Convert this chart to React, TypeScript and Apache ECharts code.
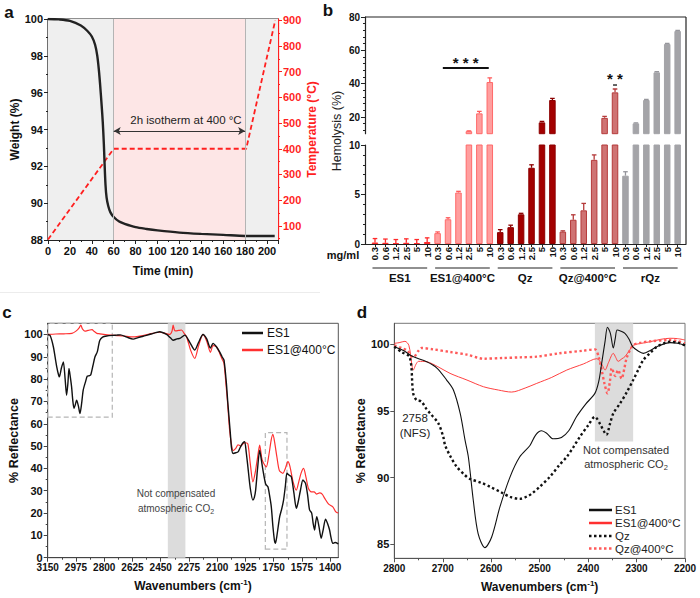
import React, { useEffect, useRef } from 'react';
import * as echarts from 'echarts';

const FONT = '"Liberation Sans", Arial, Helvetica, sans-serif';
const INK = '#111';
const RED = '#ff1f1f';

// ---------- (a) TGA: weight loss and temperature program ----------
const tgaTime = [0, 10, 20, 30, 36, 40, 43, 45, 46.5, 47.5, 49, 50, 51, 51.5, 52.5, 53.5, 55, 57, 60, 65, 70, 80, 90, 100, 120, 140, 160, 180, 190, 200, 207];
const tgaWeight = [100, 99.98, 99.9, 99.65, 99.35, 99.05, 98.6, 98.0, 97.2, 96.5, 95.3, 94.4, 93.2, 92.4, 91.0, 90.3, 89.85, 89.5, 89.25, 89.0, 88.88, 88.7, 88.6, 88.52, 88.4, 88.33, 88.28, 88.22, 88.22, 88.22, 88.22];
const tempTime = [0, 60, 181, 207.5];
const tempC = [47, 400, 400, 900];
const tempTicks = [100, 200, 300, 400, 500, 600, 700, 800, 900];
const tempMinorTicks = [50, 150, 250, 350, 450, 550, 650, 750, 850];

// ---------- (b) Hemolysis ----------
const hemoConc = ['0.3', '0.6', '1.2', '2.5', '5', '10'];
const hemoGroups = ['ES1', 'ES1@400°C', 'Qz', 'Qz@400°C', 'rQz'];
const hemoES1 = [0.15, 0.12, 0.1, 0.12, 0.1, 0.2];
const hemoES1Err = [0.4, 0.38, 0.35, 0.4, 0.35, 0.42];
const hemoES1400 = [1.1, 2.5, 5.2, 11.5, 22.2, 41.0];
const hemoES1400Err = [0.12, 0.15, 0.12, 0.2, 1.2, 2.5];
const hemoQz = [1.2, 1.7, 3.0, 7.7, 16.8, 30.2];
const hemoQzErr = [0.25, 0.2, 0.1, 0.3, 0.6, 1.0];
const hemoQz400 = [1.25, 2.45, 3.4, 8.5, 19.5, 34.8];
const hemoQz400Err = [0.08, 0.5, 0.7, 0.5, 0.9, 2.0];
const hemoRQz = [6.9, 16.2, 30.2, 46.8, 63.8, 71.6];
const hemoRQzErr = [0.4, 0.3, 0.3, 0.4, 0.4, 0.4];
const hemoUpperTicks = [20, 40, 60, 80];
const hemoUpperMinor = [12, 16, 24, 28, 32, 36, 44, 48, 52, 56, 64, 68, 72, 76];

const hemoFill = ['#ff4a4a', '#ff9e9e', '#a30000', '#cf7373', '#a4a4a8'];
const hemoEdge = ['#ff2a2a', '#ff6a6a', '#8c0000', '#b53a3a', '#a4a4a8'];
const hemoErrColor = ['#ff2a2a', '#ff5a5a', '#8c0000', '#b53a3a', '#96969c'];

// ---------- (c) FTIR, 3150–1350 cm-1 ----------
const cES1: [number, number][] = [
  [3150, 100], [3135, 99.5], [3115, 94.5], [3100, 88], [3094, 85.5], [3085, 82.5], [3078, 81], [3065, 85], [3053, 87.7],
  [3042, 80], [3033, 72.8], [3025, 78], [3018, 84.8], [3010, 81], [3002, 76.5], [2994, 70], [2987, 66.9], [2979, 68.5],
  [2971, 70.6], [2960, 68], [2950, 64.6], [2940, 69], [2930, 75.1], [2915, 79], [2905, 81.3], [2893, 81.5], [2884, 81.8],
  [2870, 86], [2857, 90], [2843, 92.2], [2835, 95], [2827, 97.4], [2810, 98.8], [2785, 99.3], [2750, 99.6], [2723, 99.7],
  [2700, 99.8], [2660, 98.8], [2621, 97.9], [2590, 98.6], [2559, 99.2], [2510, 100.2], [2456, 101.2], [2414, 100],
  [2390, 98.5], [2373, 97.4], [2350, 98], [2332, 98.2], [2301, 99.7], [2270, 96.5], [2239, 93], [2215, 96.5], [2188, 100],
  [2165, 98], [2142, 93.9], [2126, 96], [2105, 94.5], [2085, 92.2], [2070, 90], [2058, 88.5], [2043, 78], [2035, 70],
  [2027, 63], [2018, 55], [2012, 49.5], [2002, 46.7], [1985, 47], [1971, 47.4], [1960, 49], [1950, 50.4], [1940, 51.5],
  [1930, 52], [1920, 47], [1910, 40.7], [1895, 31], [1879, 25.8], [1870, 27], [1862, 30.3], [1850, 40], [1837, 48.2],
  [1827, 44], [1817, 39.3], [1800, 33], [1786, 31.8], [1776, 28], [1765, 22.8], [1755, 14], [1745, 7.5], [1740, 6.4],
  [1732, 9], [1713, 18.4], [1700, 22], [1689, 25.8], [1678, 32], [1668, 37.8], [1655, 37], [1641, 36.3], [1625, 29],
  [1610, 22.1], [1600, 24.5], [1585, 30], [1569, 34.8], [1553, 33.3], [1540, 28], [1528, 21.4], [1515, 20], [1505, 15],
  [1497, 12.4], [1490, 16], [1483, 18.4], [1470, 14], [1456, 8.7], [1445, 12], [1429, 17.3], [1415, 15], [1404, 12.4],
  [1395, 9], [1384, 6.4], [1370, 6.8], [1350, 6.2],
];
const cES1400: [number, number][] = [
  [3150, 100], [3100, 100.2], [3050, 100.3], [3000, 100.5], [2975, 101.5], [2955, 103], [2945, 104.2], [2935, 102.5],
  [2920, 101.5], [2909, 101.6], [2890, 102], [2875, 102.2], [2864, 101.5], [2845, 100.5], [2827, 100.3], [2780, 99.8],
  [2720, 99.5], [2680, 99.3], [2621, 98.9], [2560, 99.5], [2500, 100.5], [2456, 101], [2420, 100.5], [2394, 100],
  [2380, 101.5], [2373, 104.2], [2365, 102], [2358, 101.6], [2340, 101.8], [2321, 102], [2305, 100.5], [2290, 99],
  [2265, 93], [2239, 89.3], [2215, 95], [2188, 100], [2165, 97], [2142, 92], [2126, 95], [2105, 94.5], [2085, 91.6],
  [2070, 89], [2058, 87], [2045, 77], [2037, 70.6], [2023, 57], [2010, 50], [2002, 48], [1985, 49], [1971, 50.6],
  [1955, 50], [1940, 51], [1925, 51.5], [1910, 51], [1895, 42], [1879, 34], [1865, 38], [1850, 45], [1837, 50.4],
  [1825, 45], [1817, 43], [1796, 40.7], [1780, 46], [1765, 53], [1755, 55.3], [1745, 52], [1730, 45], [1715, 39],
  [1693, 37.8], [1678, 40], [1662, 43], [1650, 41], [1630, 34], [1610, 30.3], [1595, 34], [1580, 38], [1565, 40],
  [1550, 36], [1535, 31], [1517, 29.5], [1500, 29.5], [1485, 28.5], [1466, 29], [1450, 28.5], [1435, 26.7],
  [1410, 24], [1384, 22.8], [1365, 20.5], [1350, 20],
];
const cXTicks = [3150, 2975, 2800, 2625, 2450, 2275, 2100, 1925, 1750, 1575, 1400];
const cXMinor = [3062.5, 2887.5, 2712.5, 2537.5, 2362.5, 2187.5, 2012.5, 1837.5, 1662.5, 1487.5];
const cYTicks = [0, 10, 20, 30, 40, 50, 60, 70, 80, 90, 100];
const cYMinor = [5, 15, 25, 35, 45, 55, 65, 75, 85, 95];

// ---------- (d) FTIR, 2800–2200 cm-1 ----------
const dES1: [number, number][] = [
  [2800, 99.8], [2780, 99.5], [2764, 99.1], [2733, 98.67], [2712, 98.2], [2692, 97.3], [2678, 96.55], [2664, 94.8],
  [2654, 92.8], [2647, 91.5], [2637, 88.3], [2627, 85.8], [2613, 84.75], [2599, 85.55], [2582, 87.8], [2561, 90.05],
  [2541, 91.55], [2520, 92.4], [2508, 93.2], [2496, 93.5], [2485, 93.3], [2472, 92.9], [2455, 93.0], [2440, 93.5],
  [2424, 94.55], [2405, 95.5], [2386, 96.3], [2378, 97.2], [2372, 98.55], [2365, 100.2], [2360, 101.25], [2354, 100.8],
  [2348, 99.7], [2344, 100.4], [2340, 101.05], [2332, 100.95], [2324, 100.8], [2316, 100.4], [2308, 99.8], [2296, 99.45],
  [2286, 99.3], [2270, 99.55], [2258, 99.8], [2231, 100.1], [2215, 100.05], [2200, 99.9],
];
const dES1400: [number, number][] = [
  [2800, 100.05], [2790, 100.1], [2778, 100.2], [2770, 99.9], [2764, 98.5], [2761, 98.05], [2755, 98.5], [2750, 98.7],
  [2733, 98.67], [2710, 98.3], [2685, 97.8], [2650, 97.3], [2616, 96.8], [2585, 96.55], [2558, 96.4], [2530, 96.7],
  [2506, 97.05], [2475, 97.5], [2444, 98.05], [2410, 98.5], [2382, 98.9], [2372, 98.5], [2365, 98.05], [2358, 98.6],
  [2348, 99.3], [2343, 99.0], [2338, 98.7], [2330, 98.9], [2324, 99.05], [2315, 99.5], [2307, 99.9], [2290, 100.05],
  [2272, 100.17], [2250, 100.35], [2231, 100.43], [2215, 100.4], [2200, 100.3],
];
const dQz: [number, number][] = [
  [2800, 99.8], [2785, 99.4], [2768, 99.0], [2761, 96.3], [2754, 95.8], [2744, 95.7], [2735, 95.2], [2726, 94.8],
  [2709, 94.05], [2699, 93.05], [2695, 92.4], [2683, 91.5], [2671, 90.8], [2655, 90.2], [2644, 89.9], [2620, 89.6],
  [2602, 89.3], [2580, 88.9], [2561, 88.55], [2541, 88.4], [2525, 88.6], [2516, 88.8], [2500, 89.3], [2479, 90.05],
  [2460, 90.9], [2444, 91.55], [2430, 92.3], [2417, 93.05], [2400, 93.9], [2386, 94.55], [2375, 94.0], [2368, 93.5],
  [2362, 93.2], [2355, 94.0], [2348, 94.8], [2334, 95.55], [2320, 96.4], [2307, 97.3], [2296, 98.1], [2286, 98.8],
  [2270, 99.4], [2258, 99.8], [2240, 100.1], [2231, 100.17], [2215, 100.1], [2200, 99.9],
];
const dQz400: [number, number][] = [
  [2800, 99.9], [2785, 99.7], [2773, 99.5], [2761, 99.0], [2750, 99.5], [2744, 99.7], [2720, 99.6], [2685, 99.4],
  [2650, 99.2], [2616, 98.9], [2575, 98.95], [2540, 99.0], [2506, 99.05], [2460, 99.3], [2410, 99.5], [2386, 99.6],
  [2378, 99.0], [2372, 98.05], [2366, 97.0], [2360, 96.3], [2355, 97.2], [2351, 98.2], [2344, 97.6], [2338, 98.05],
  [2331, 97.4], [2325, 98.2], [2320, 99.0], [2307, 99.9], [2290, 100.1], [2272, 100.2], [2231, 100.3], [2215, 100.2],
  [2200, 100.05],
];
const dYTicks = [85, 90, 95, 100];

const hemoVals = [hemoES1, hemoES1400, hemoQz, hemoQz400, hemoRQz];
const hemoErrs = [hemoES1Err, hemoES1400Err, hemoQzErr, hemoQz400Err, hemoRQzErr];

const bold = (size: number, color = INK) => ({ fontFamily: FONT, fontWeight: 'bold' as const, fontSize: size, color });
const plain = (v: number) => String(v);

function tickOnlyAxis(base: any) {
  return {
    type: 'value',
    axisLine: { show: false, onZero: false },
    axisLabel: { show: false },
    splitLine: { show: false },
    ...base,
  };
}

function errorSeries(xi: number, yi: number, items: any[]) {
  return {
    type: 'custom',
    xAxisIndex: xi,
    yAxisIndex: yi,
    clip: true,
    silent: true,
    z: 4,
    data: items,
    renderItem: (params: any, api: any) => {
      const x = api.value(0);
      const v = api.value(1);
      const e = api.value(2);
      const color = hemoErrColor[api.value(3)];
      const a = api.coord([x, v]);
      const b = api.coord([x, v + e]);
      const hw = 2.3;
      return {
        type: 'group',
        children: [
          { type: 'line', shape: { x1: a[0], y1: a[1], x2: b[0], y2: b[1] }, style: { stroke: color, lineWidth: 1.3 } },
          { type: 'line', shape: { x1: b[0] - hw, y1: b[1], x2: b[0] + hw, y2: b[1] }, style: { stroke: color, lineWidth: 1.3 } },
        ],
      };
    },
  };
}

const wavenumberName = {
  name: '{t|Wavenumbers (cm}{s|-1}{t|)}',
  nameLocation: 'middle',
  nameGap: 21,
  nameTextStyle: {
    rich: {
      t: { ...bold(12), lineHeight: 15 },
      s: { ...bold(8), verticalAlign: 'top', lineHeight: 15, padding: [0, 0, 6, 0] },
    },
  },
};

export default function App() {
  const ref = useRef<HTMLDivElement>(null);

  useEffect(() => {
    if (!ref.current) return;
    const chart = echarts.init(ref.current, null, { renderer: 'svg', width: 700, height: 598 });

    const lowerBars: any[] = [];
    const upperBars: any[] = [];
    const lowerErr: any[] = [];
    const upperErr: any[] = [];
    hemoVals.forEach((vals, g) => {
      vals.forEach((v, k) => {
        const idx = g * 6 + k;
        const style = { color: hemoFill[g], borderColor: hemoEdge[g], borderWidth: 1 };
        lowerBars.push({ value: [idx, v], itemStyle: style });
        if (v > 10) {
          upperBars.push({ value: [idx, v], itemStyle: style });
          upperErr.push([idx, v, hemoErrs[g][k], g]);
        } else {
          lowerErr.push([idx, v, hemoErrs[g][k], g]);
        }
      });
    });
    const hemoIdx = Array.from({ length: 30 }, (_, i) => i);
    const bXMin = -0.957;
    const bXMax = 29.8;

    const option: any = {
      animation: false,
      backgroundColor: '#ffffff',
      textStyle: { fontFamily: FONT },
      grid: [
        { left: 48, top: 19, width: 230, height: 221, show: true, borderColor: '#222', borderWidth: 1.2, backgroundColor: 'transparent' },
        { left: 365, top: 17, width: 321, height: 116.7 },
        { left: 365, top: 145, width: 321, height: 99 },
        { left: 47.7, top: 323.3, width: 290.6, height: 234.4, show: true, borderColor: '#555', borderWidth: 1, backgroundColor: 'transparent' },
        { left: 394.3, top: 323.3, width: 290.7, height: 235, show: true, borderColor: '#777', borderWidth: 1, backgroundColor: 'transparent' },
      ],
      xAxis: [
        {
          gridIndex: 0, type: 'value', min: 0, max: 210, interval: 20,
          axisLine: { show: true, onZero: false, lineStyle: { color: '#222', width: 1.2 } },
          axisTick: { show: true, length: 4, lineStyle: { color: '#222' } },
          minorTick: { show: true, splitNumber: 2, length: 2, lineStyle: { color: '#222' } },
          splitLine: { show: false },
          axisLabel: { ...bold(11), margin: 5, showMaxLabel: false, formatter: plain },
          name: 'Time (min)', nameLocation: 'middle', nameGap: 25, nameTextStyle: bold(12),
        },
        { gridIndex: 1, type: 'value', min: bXMin, max: bXMax, show: false, axisLine: { onZero: false } },
        {
          gridIndex: 2, type: 'value', min: bXMin, max: bXMax,
          axisLine: { show: true, onZero: false, lineStyle: { color: '#222', width: 1.2 } },
          axisTick: { show: true, customValues: hemoIdx, length: 3, lineStyle: { color: '#222' } },
          axisLabel: {
            customValues: hemoIdx, rotate: 90, margin: 3, ...bold(9.5),
            formatter: (v: number) => hemoConc[Math.round(v) % 6],
          },
          splitLine: { show: false },
        },
        {
          gridIndex: 3, type: 'value', min: 1350, max: 3150, inverse: true,
          axisLine: { show: true, onZero: false, lineStyle: { color: '#444', width: 1 } },
          axisTick: { show: true, customValues: cXTicks, length: 4, lineStyle: { color: '#444' } },
          axisLabel: { customValues: cXTicks, ...bold(10), margin: 5, formatter: plain },
          splitLine: { show: false },
          ...wavenumberName,
        },
        tickOnlyAxis({
          gridIndex: 3, min: 1350, max: 3150, inverse: true, position: 'bottom',
          axisTick: { show: true, customValues: cXMinor, length: 2, lineStyle: { color: '#444' } },
        }),
        {
          gridIndex: 4, type: 'value', min: 2200, max: 2800, interval: 100, inverse: true,
          axisLine: { show: true, onZero: false, lineStyle: { color: '#555', width: 1 } },
          axisTick: { show: true, length: 4, lineStyle: { color: '#555' } },
          minorTick: { show: true, splitNumber: 2, length: 2, lineStyle: { color: '#555' } },
          axisLabel: { ...bold(10), margin: 5, formatter: plain },
          splitLine: { show: false },
          ...wavenumberName,
        },
      ],
      yAxis: [
        {
          gridIndex: 0, type: 'value', position: 'left', min: 88, max: 100, interval: 2,
          axisLine: { show: true, onZero: false, lineStyle: { color: '#222', width: 1.2 } },
          axisTick: { show: true, length: 4, lineStyle: { color: '#222' } },
          minorTick: { show: true, splitNumber: 2, length: 2, lineStyle: { color: '#222' } },
          splitLine: { show: false },
          axisLabel: { ...bold(11), margin: 5, formatter: plain },
          name: 'Weight (%)', nameLocation: 'middle', nameGap: 25, nameTextStyle: bold(12),
        },
        {
          gridIndex: 0, type: 'value', position: 'right', min: 45, max: 905,
          axisLine: { show: true, onZero: false, lineStyle: { color: RED, width: 1.3 } },
          axisTick: { show: true, customValues: tempTicks, length: 4, lineStyle: { color: RED } },
          axisLabel: { customValues: tempTicks, ...bold(11, RED), margin: 5, formatter: plain },
          splitLine: { show: false },
          name: 'Temperature (°C)', nameLocation: 'middle', nameGap: 28, nameTextStyle: bold(12, RED),
        },
        tickOnlyAxis({
          gridIndex: 0, min: 45, max: 905, position: 'right',
          axisTick: { show: true, customValues: tempMinorTicks, length: 2, lineStyle: { color: RED } },
        }),
        {
          gridIndex: 1, type: 'value', position: 'left', min: 10, max: 80,
          axisLine: { show: true, onZero: false, lineStyle: { color: '#222', width: 1.2 } },
          axisTick: { show: true, customValues: hemoUpperTicks, length: 4, lineStyle: { color: '#222' } },
          axisLabel: { customValues: hemoUpperTicks, ...bold(10), margin: 5, formatter: plain },
          splitLine: { show: false },
        },
        tickOnlyAxis({
          gridIndex: 1, min: 10, max: 80, position: 'left',
          axisTick: { show: true, customValues: hemoUpperMinor, length: 2, lineStyle: { color: '#222' } },
        }),
        {
          gridIndex: 2, type: 'value', position: 'left', min: 0, max: 10, interval: 5,
          axisLine: { show: true, onZero: false, lineStyle: { color: '#222', width: 1.2 } },
          axisTick: { show: true, length: 4, lineStyle: { color: '#222' } },
          minorTick: { show: true, splitNumber: 5, length: 2, lineStyle: { color: '#222' } },
          axisLabel: { ...bold(10), margin: 5, formatter: plain },
          splitLine: { show: false },
        },
        {
          gridIndex: 3, type: 'value', position: 'left', min: 0, max: 105,
          axisLine: { show: true, onZero: false, lineStyle: { color: '#444', width: 1 } },
          axisTick: { show: true, customValues: cYTicks, length: 4, lineStyle: { color: '#444' } },
          axisLabel: { customValues: cYTicks, ...bold(11), margin: 5, formatter: plain },
          splitLine: { show: false },
          name: '% Reflectance', nameLocation: 'middle', nameGap: 27, nameTextStyle: bold(12.5),
        },
        tickOnlyAxis({
          gridIndex: 3, min: 0, max: 105, position: 'left',
          axisTick: { show: true, customValues: cYMinor, length: 2, lineStyle: { color: '#444' } },
        }),
        {
          gridIndex: 4, type: 'value', position: 'left', min: 83.95, max: 101.55,
          axisLine: { show: true, onZero: false, lineStyle: { color: '#555', width: 1 } },
          axisTick: { show: true, customValues: dYTicks, length: 4, lineStyle: { color: '#555' } },
          axisLabel: { customValues: dYTicks, ...bold(11), margin: 5, formatter: plain },
          splitLine: { show: false },
          name: '% Reflectance', nameLocation: 'middle', nameGap: 22, nameTextStyle: bold(12.5),
        },
      ],
      series: [
        // (a) temperature program, with the heating-stage shading
        {
          type: 'line', xAxisIndex: 0, yAxisIndex: 1, silent: true, symbol: 'none', z: 3,
          data: tempTime.map((t, i) => [t, tempC[i]]),
          lineStyle: { color: RED, width: 1.8, type: [5, 3] },
          markArea: {
            silent: true,
            data: [
              [{ xAxis: 0, itemStyle: { color: '#efefef' } }, { xAxis: 60 }],
              [{ xAxis: 60, itemStyle: { color: '#fde6e6' } }, { xAxis: 180 }],
              [{ xAxis: 180, itemStyle: { color: '#efefef' } }, { xAxis: 210 }],
            ],
          },
          markLine: {
            silent: true, symbol: 'none', label: { show: false },
            lineStyle: { color: '#b4b4b4', width: 1, type: 'solid' },
            data: [{ xAxis: 60 }, { xAxis: 180 }],
          },
        },
        {
          type: 'line', xAxisIndex: 0, yAxisIndex: 0, silent: true, symbol: 'none', z: 4,
          data: tgaTime.map((t, i) => [t, tgaWeight[i]]),
          smooth: 0.3,
          lineStyle: { color: '#222', width: 2.4 },
          markLine: {
            silent: true, symbol: ['arrow', 'arrow'], symbolSize: [6, 7], label: { show: false },
            lineStyle: { color: '#333', width: 1, type: 'solid' },
            data: [[{ coord: [60, 93.92] }, { coord: [180, 93.92] }]],
          },
        },
        // (b) hemolysis bars, split over the two y ranges
        { type: 'bar', xAxisIndex: 1, yAxisIndex: 3, barWidth: 6.5, clip: true, silent: true, data: upperBars },
        errorSeries(1, 3, upperErr),
        { type: 'bar', xAxisIndex: 2, yAxisIndex: 5, barWidth: 6.5, clip: true, silent: true, data: lowerBars },
        errorSeries(2, 5, lowerErr),
        // (c) spectra
        {
          type: 'line', xAxisIndex: 3, yAxisIndex: 6, silent: true, symbol: 'none', smooth: 0.25, z: 3,
          data: cES1400, lineStyle: { color: '#ff3030', width: 1.2 },
          markArea: {
            silent: true,
            data: [
              [{ xAxis: 2406, itemStyle: { color: '#dcdcdc' } }, { xAxis: 2297 }],
              [{ xAxis: 3150, yAxis: 63, itemStyle: { color: 'rgba(0,0,0,0)', borderColor: '#b5b5b5', borderWidth: 1.2, borderType: [5, 3] } }, { xAxis: 2750, yAxis: 105 }],
              [{ xAxis: 1802, yAxis: 3.8, itemStyle: { color: 'rgba(0,0,0,0)', borderColor: '#b5b5b5', borderWidth: 1.2, borderType: [5, 3] } }, { xAxis: 1668, yAxis: 56 }],
            ],
          },
        },
        {
          type: 'line', xAxisIndex: 3, yAxisIndex: 6, silent: true, symbol: 'none', smooth: 0.25, z: 4,
          data: cES1, lineStyle: { color: '#111', width: 1.4 },
        },
        // (d) spectra
        {
          type: 'line', xAxisIndex: 5, yAxisIndex: 8, silent: true, symbol: 'none', smooth: 0.3, z: 3,
          data: dES1400, lineStyle: { color: '#ff4040', width: 1 },
          markArea: {
            silent: true,
            data: [[{ xAxis: 2386, yAxis: 92.7, itemStyle: { color: '#dcdcdc' } }, { xAxis: 2307, yAxis: 101.55 }]],
          },
        },
        {
          type: 'line', xAxisIndex: 5, yAxisIndex: 8, silent: true, symbol: 'none', smooth: 0.3, z: 3,
          data: dQz400, lineStyle: { color: '#ff5a5a', width: 2.4, type: [2.4, 2.6] },
        },
        {
          type: 'line', xAxisIndex: 5, yAxisIndex: 8, silent: true, symbol: 'none', smooth: 0.3, z: 4,
          data: dQz, lineStyle: { color: '#111', width: 2.4, type: [2.4, 2.6] },
        },
        {
          type: 'line', xAxisIndex: 5, yAxisIndex: 8, silent: true, symbol: 'none', smooth: 0.3, z: 4,
          data: dES1, lineStyle: { color: '#111', width: 1.1 },
        },
      ],
    };

    chart.setOption(option);

    // annotations placed through the axes of the hemolysis panel
    const bx = (i: number) => chart.convertToPixel({ xAxisIndex: 2 }, i) as number;
    const byU = (v: number) => chart.convertToPixel({ yAxisIndex: 3 }, v) as number;
    const txt = (x: number, y: number, text: string, size: number, weight: string, fill = INK, extra: any = {}) => ({
      type: 'text', x, y, silent: true, z: 100,
      style: { text, fontFamily: FONT, fontSize: size, fontWeight: weight, fill, align: 'center', verticalAlign: 'middle', ...extra },
    });
    const line = (x1: number, y1: number, x2: number, y2: number, stroke: string, lineWidth: number, extra: any = {}) => ({
      type: 'line', silent: true, z: 100, shape: { x1, y1, x2, y2 }, style: { stroke, lineWidth, ...extra },
    });

    const graphics: any[] = [];
    // panel letters
    graphics.push(txt(9, 12, 'a', 17, 'bold'));
    graphics.push(txt(328, 10, 'b', 17, 'bold'));
    graphics.push(txt(7, 312, 'c', 17, 'bold'));
    graphics.push(txt(362, 312, 'd', 17, 'bold'));
    graphics.push(line(0, 292.5, 320, 292.5, '#ececec', 1));

    // (a) isotherm note
    graphics.push(txt(186, 120, '2h isotherm at 400 °C', 11.5, 'normal', '#222'));

    // (b) frame, axis title, group labels, significance marks
    graphics.push(line(365, 17, 686, 17, '#222', 1.2));
    graphics.push(line(686, 17, 686, 244, '#222', 1.2));
    graphics.push({ ...txt(337, 131, 'Hemolysis (%)', 12.5, 'normal', '#222'), rotation: Math.PI / 2 });
    graphics.push(txt(343, 255, 'mg/ml', 11, 'bold'));
    hemoGroups.forEach((name, g) => {
      const x1 = bx(g * 6) - 2.5;
      const x2 = bx(g * 6 + 5);
      graphics.push(line(x1, 268, x2, 268, '#222', 1.2));
      graphics.push(txt((x1 + x2) / 2, 278, name, 11.5, 'bold'));
    });
    const sigY = byU(49.4);
    graphics.push(line(bx(6.5), sigY, bx(10.9), sigY, '#111', 2));
    graphics.push(txt((bx(6.5) + bx(10.9)) / 2, sigY - 6, '* * *', 15, 'bold'));
    graphics.push(txt(bx(23), byU(45.2) + 3, '* *', 15, 'bold'));
    graphics.push(line(bx(23) - 2, byU(39.2), bx(23) + 2, byU(39.2), '#111', 1.3));

    // (c) legend and CO2 note
    graphics.push(line(242, 333, 263, 333, '#111', 2.5));
    graphics.push(txt(267, 333, 'ES1', 12, 'normal', '#111', { align: 'left' }));
    graphics.push(line(242, 350, 263, 350, '#ff3030', 2.5));
    graphics.push(txt(267, 350, 'ES1@400°C', 12, 'normal', '#111', { align: 'left' }));
    graphics.push(txt(176, 493, 'Not compensated', 10, 'normal', '#444'));
    graphics.push({
      type: 'text', x: 176, y: 508, silent: true, z: 100,
      style: {
        text: '{n|atmospheric CO}{u|2}', align: 'center', verticalAlign: 'middle',
        rich: {
          n: { fontFamily: FONT, fontSize: 10, fill: '#444', lineHeight: 13 },
          u: { fontFamily: FONT, fontSize: 7, fill: '#444', lineHeight: 13, verticalAlign: 'bottom', padding: [4, 0, 0, 0] },
        },
      },
    });

    // (d) legend and notes
    const legD = [
      { y: 510, name: 'ES1', color: '#111', w: 2.5, dash: null },
      { y: 523, name: 'ES1@400°C', color: '#ff3030', w: 2.5, dash: null },
      { y: 536, name: 'Qz', color: '#111', w: 2.5, dash: [2.5, 2.5] },
      { y: 548.5, name: 'Qz@400°C', color: '#ff5a5a', w: 2.5, dash: [2.5, 2.5] },
    ];
    legD.forEach((l) => {
      graphics.push(line(589, l.y, 612, l.y, l.color, l.w, l.dash ? { lineDash: l.dash } : {}));
      graphics.push(txt(615, l.y, l.name, 11.5, 'normal', '#222', { align: 'left' }));
    });
    graphics.push(txt(626, 450, 'Not compensated', 11, 'normal', '#333'));
    graphics.push({
      type: 'text', x: 626, y: 464, silent: true, z: 100,
      style: {
        text: '{n|atmospheric CO}{u|2}', align: 'center', verticalAlign: 'middle',
        rich: {
          n: { fontFamily: FONT, fontSize: 11, fill: '#333', lineHeight: 14 },
          u: { fontFamily: FONT, fontSize: 7.5, fill: '#333', lineHeight: 14, verticalAlign: 'bottom', padding: [4, 0, 0, 0] },
        },
      },
    });
    graphics.push(txt(415, 418, '2758', 11.5, 'normal', '#222'));
    graphics.push(txt(415, 433, '(NFS)', 11.5, 'normal', '#222'));

    chart.setOption({ graphic: graphics });

    return () => chart.dispose();
  }, []);

  return (
    <div
      ref={ref}
      style={{ position: 'absolute', left: 0, top: 0, width: 700, height: 598, background: '#ffffff' }}
    />
  );
}
